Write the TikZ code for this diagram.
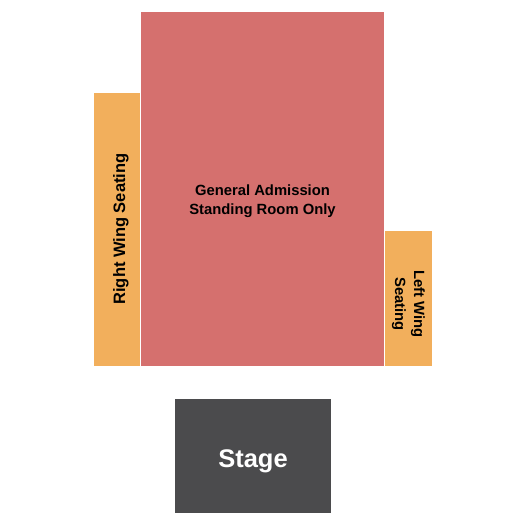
\documentclass[tikz,border=0pt]{standalone}
\usepackage{fontspec}
\setmainfont{Liberation Sans}
\definecolor{gacol}{HTML}{D5706E}
\definecolor{wingcol}{HTML}{F2AF5C}
\definecolor{stagecol}{HTML}{4B4B4D}
\begin{document}
\begin{tikzpicture}[x=1pt,y=-1pt,
  block/.style={inner sep=0pt,outer sep=0pt},
  lbl/.style={font=\bfseries\fontsize{14.8}{19}\selectfont,align=center,text=black}]
\useasboundingbox (0,0) rectangle (525,525);
\fill[white] (0,0) rectangle (525,525);
\fill[gacol] (141,12) rectangle (384,366);
\fill[wingcol] (94,93) rectangle (140,366);
\fill[wingcol] (385,231) rectangle (432,366);
\fill[stagecol] (175,399) rectangle (331,513);
\node[lbl] (ga) at (262.5,201.5) {General Admission\\Standing Room Only};
\node[lbl,rotate=90,font=\bfseries\fontsize{16.5}{19}\selectfont] (rw) at (121,229) {Right Wing Seating};
\node[lbl,rotate=-90] (lw) at (408.5,304) {Left Wing\\Seating};
\node[lbl,text=white,font=\bfseries\fontsize{25.5}{28}\selectfont] (st) at (253,461) {Stage};
\end{tikzpicture}
\end{document}
